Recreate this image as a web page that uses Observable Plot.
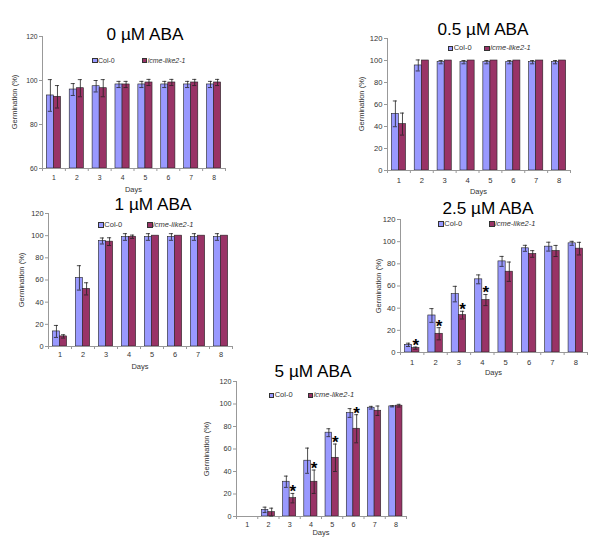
<!DOCTYPE html>
<html><head><meta charset="utf-8">
<script src="https://cdn.jsdelivr.net/npm/d3@7"></script>
<script src="https://cdn.jsdelivr.net/npm/@observablehq/plot@0.6"></script>
<style>
body{margin:0;background:#fff;}
#root{position:relative;width:600px;height:550px;overflow:hidden;background:#fff;font-family:"Liberation Sans",Arial,sans-serif;}
.t{position:absolute;white-space:nowrap;line-height:1;color:#000;}
#root svg{position:absolute;background:transparent;}
</style></head><body><div id="root"></div>
<script>
// ---- data ----
const days = [1, 2, 3, 4, 5, 6, 7, 8];
const seriesNames = ["Col-0", "icme-like2-1"];
const panelTitles = ["0 µM ABA", "0.5 µM ABA", "1 µM ABA", "2.5 µM ABA", "5 µM ABA"];
const yTicksTop = [60, 80, 100, 120];
const yTicksFull = [0, 20, 40, 60, 80, 100, 120];

const col_aba0 = [93.2, 95.9, 97.4, 98.2, 98.2, 98.2, 98.2, 98.2];
const colErr_aba0 = [7.2, 2.7, 2.6, 1.4, 1.4, 1.4, 1.4, 1.4];
const icme_aba0 = [92.6, 96.5, 96.5, 98.2, 99.1, 99.1, 99.1, 99.1];
const icmeErr_aba0 = [5.1, 3.9, 3.9, 1.4, 1.4, 1.4, 1.4, 1.4];

const col_aba05 = [51.5, 95.5, 98.5, 98.5, 98.5, 98.5, 98.5, 98.5];
const colErr_aba05 = [11.7, 5, 1.5, 1.5, 1.5, 1.5, 1.5, 1.5];
const icme_aba05 = [42.2, 100, 100, 100, 100, 100, 100, 100];
const icmeErr_aba05 = [10, 0, 0, 0, 0, 0, 0, 0];

const col_aba1 = [13.6, 61.9, 95.2, 98.8, 98.8, 98.8, 98.8, 98.8];
const colErr_aba1 = [5.4, 11, 2.7, 3, 3, 3, 3, 3];
const icme_aba1 = [9.1, 52, 94.6, 99, 100, 100, 100, 100];
const icmeErr_aba1 = [1.5, 5.5, 3.5, 1.5, 0, 0, 0, 0];

const col_aba25 = [6.9, 33.4, 52.7, 66, 82.2, 94, 95.5, 98.5];
const colErr_aba25 = [1.5, 6.2, 7, 4, 4.5, 2.7, 4, 1.8];
const icme_aba25 = [3.9, 16.9, 33.7, 47.3, 72.9, 88.9, 91.6, 93.7];
const icmeErr_aba25 = [1, 5.5, 3.5, 5, 8.7, 3, 5, 5.7];
const stars_aba25 = [1, 2, 3, 4];

const col_aba5 = [0, 5.9, 30.9, 49.6, 74.5, 92, 96.7, 97.9];
const colErr_aba5 = [0, 2.4, 5, 11.2, 3.5, 3.9, 1.2, 0.5];
const icme_aba5 = [0, 3.9, 16.3, 30.9, 52.2, 78, 94, 98.5];
const icmeErr_aba5 = [0, 3.5, 4.2, 10.4, 12.2, 12.5, 4.2, 1.2];
const stars_aba5 = [3, 4, 5, 6];

// ---- layout / style ----
const COL_FILL = "#9999ff", ICME_FILL = "#993366";
const W = 0.31; // bar width in day units
const panels = [
  {title: panelTitles[0], col: col_aba0, colErr: colErr_aba0, icme: icme_aba0, icmeErr: icmeErr_aba0, stars: [],
   domain: [60, 120], ticks: yTicksTop,
   L: 42, R: 225, T: 36, B: 168, fs: 6.8, titleX: 145, titleBase: 40.5,
   legY: 60, legCol: 92, legIcme: 141.7, legFs: 7, ylabX: 15, daysY: 190, tickPad: 7},
  {title: panelTitles[1], col: col_aba05, colErr: colErr_aba05, icme: icme_aba05, icmeErr: icmeErr_aba05, stars: [],
   domain: [0, 120], ticks: yTicksFull,
   L: 387, R: 570, T: 38, B: 170, fs: 7.6, titleX: 483, titleBase: 35.5,
   legY: 48, legCol: 447.7, legIcme: 484.3, legFs: 7.5, ylabX: 362, daysY: 192, tickPad: 7},
  {title: panelTitles[2], col: col_aba1, colErr: colErr_aba1, icme: icme_aba1, icmeErr: icmeErr_aba1, stars: [],
   domain: [0, 120], ticks: yTicksFull,
   L: 48, R: 232, T: 213, B: 346, fs: 7.4, titleX: 153, titleBase: 211,
   legY: 224.5, legCol: 98.3, legIcme: 147, legFs: 7.5, ylabX: 22, daysY: 367, tickPad: 5},
  {title: panelTitles[3], col: col_aba25, colErr: colErr_aba25, icme: icme_aba25, icmeErr: icmeErr_aba25, stars: stars_aba25,
   domain: [0, 120], ticks: yTicksFull,
   L: 400, R: 587, T: 219, B: 352, fs: 7.6, titleX: 488, titleBase: 214.5,
   legY: 223.5, legCol: 438.3, legIcme: 489, legFs: 7.5, ylabX: 379, daysY: 373, tickPad: 7},
  {title: panelTitles[4], col: col_aba5, colErr: colErr_aba5, icme: icme_aba5, icmeErr: icmeErr_aba5, stars: stars_aba5,
   domain: [0, 120], ticks: yTicksFull,
   L: 236, R: 406, T: 381, B: 516, fs: 7.2, titleX: 313, titleBase: 377.5,
   legY: 395, legCol: 268.7, legIcme: 307.7, legFs: 7.5, ylabX: 207, daysY: 533, tickPad: 5}
];

const root = document.getElementById("root");
function addText(str, x, y, o = {}) {
  const d = document.createElement("div");
  d.className = "t";
  d.textContent = str;
  d.style.fontSize = (o.fs || 8) + "px";
  if (o.italic) d.style.fontStyle = "italic";
  if (o.color) d.style.color = o.color;
  d.style.left = x + "px";
  d.style.top = y + "px";
  d.style.transform = o.transform || "translate(-50%,-50%)";
  root.appendChild(d);
  return d;
}
function addSwatch(x, y, fill) {
  const s = document.createElement("div");
  s.style.cssText = `position:absolute;left:${x}px;top:${y - 2.2}px;width:3.6px;height:3.6px;background:${fill};border:0.6px solid #333;`;
  root.appendChild(s);
}

panels.forEach(p => {
  const rows = [];
  days.forEach((d, i) => {
    rows.push({day: d, s: seriesNames[0], v: p.col[i], e: p.colErr[i], x1: d - W, x2: d, xc: d - W / 2});
    rows.push({day: d, s: seriesNames[1], v: p.icme[i], e: p.icmeErr[i], x1: d, x2: d + W, xc: d + W / 2});
  });
  const colRows = rows.filter(r => r.s === seriesNames[0]);
  const icmeRows = rows.filter(r => r.s === seriesNames[1]);
  const errRows = rows.filter(r => r.e > 0);
  const starRows = icmeRows.filter(r => p.stars.includes(r.day));
  const ml = 30, mr = 6, mt = 6, mb = 18;
  const w = p.R - p.L, h = p.B - p.T;
  const base = p.domain[0];
  const bounds = days.map(d => d - 0.5).concat([days[days.length - 1] + 0.5]);
  const svg = Plot.plot({
    width: w + ml + mr, height: h + mt + mb,
    marginLeft: ml, marginRight: mr, marginTop: mt, marginBottom: mb,
    x: {type: "linear", domain: [0.5, 8.5]},
    y: {domain: p.domain},
    style: {fontFamily: "'Liberation Sans', Arial, sans-serif", fontSize: p.fs + "px", color: "#333", background: "transparent", overflow: "visible"},
    marks: [
      Plot.axisY({ticks: p.ticks, tickSize: 3, tickPadding: 2, label: null, stroke: "#999", fill: "#333"}),
      Plot.axisX({ticks: bounds, tickSize: 3, tickFormat: () => "", label: null, stroke: "#999"}),
      Plot.axisX({ticks: days, tickSize: 0, tickPadding: p.tickPad, tickFormat: d => String(d), label: null, fill: "#333"}),
      Plot.rectY(colRows, {x1: "x1", x2: "x2", y1: base, y2: "v", fill: COL_FILL, stroke: "#222", strokeWidth: 0.6}),
      Plot.rectY(icmeRows, {x1: "x1", x2: "x2", y1: base, y2: "v", fill: ICME_FILL, stroke: "#222", strokeWidth: 0.6}),
      Plot.ruleX([0.5], {stroke: "#999"}),
      Plot.ruleY([base], {stroke: "#999"}),
      Plot.ruleX(errRows, {x: "xc", y1: r => r.v - r.e, y2: r => r.v + r.e, stroke: "#222", strokeWidth: 0.8}),
      Plot.ruleY(errRows, {y: r => r.v + r.e, x1: r => r.xc - 0.09, x2: r => r.xc + 0.09, stroke: "#222", strokeWidth: 0.8}),
      Plot.ruleY(errRows, {y: r => r.v - r.e, x1: r => r.xc - 0.09, x2: r => r.xc + 0.09, stroke: "#222", strokeWidth: 0.8}),
      Plot.text(starRows, {x: "xc", y: r => r.v + r.e, text: () => "*", dy: -1.5, fontSize: 17, fontWeight: "bold", fill: "#000"})
    ]
  });
  svg.style.left = (p.L - ml) + "px";
  svg.style.top = (p.T - mt) + "px";
  root.appendChild(svg);
});

panels.forEach(p => {
  const tfs = 17.2;
  addText(p.title, p.titleX, p.titleBase - 0.8465 * tfs, {fs: tfs, transform: "translateX(-50%)"});
  addSwatch(p.legCol, p.legY, COL_FILL);
  addText(seriesNames[0], p.legCol + 6, p.legY, {fs: p.legFs, color: "#333", transform: "translateY(-50%)"});
  addSwatch(p.legIcme, p.legY, ICME_FILL);
  addText(seriesNames[1], p.legIcme + 6, p.legY, {fs: p.legFs, color: "#333", italic: true, transform: "translateY(-50%)"});
  addText("Germination (%)", p.ylabX, (p.T + p.B) / 2, {fs: 7.5, color: "#333", transform: "translate(-50%,-50%) rotate(-90deg)"});
  addText("Days", (p.L + p.R) / 2, p.daysY, {fs: 7.5, color: "#333"});
});
</script></body></html>
